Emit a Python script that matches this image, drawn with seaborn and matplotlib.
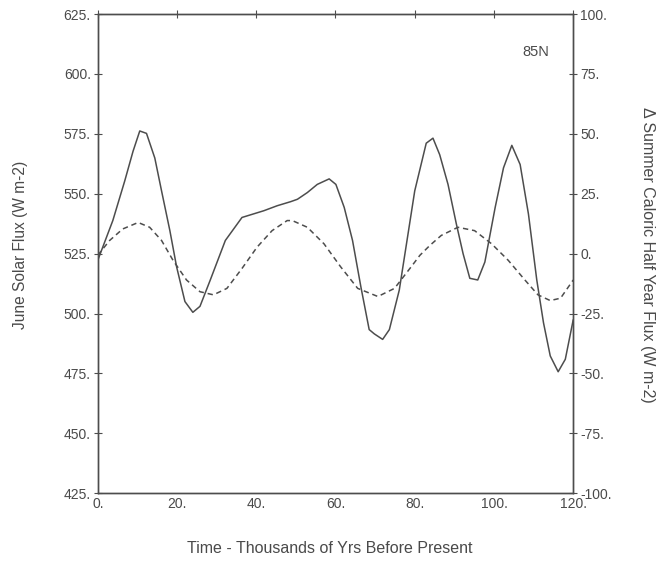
import numpy as np
import pandas as pd
import matplotlib
matplotlib.use("Agg")
import matplotlib.pyplot as plt
from matplotlib.ticker import FuncFormatter, MultipleLocator
import seaborn as sns

# June solar flux at 85N (left axis)
kyr_june = [0, 3.8, 6.8, 8.9, 10.6, 12.3, 14.4, 16.1, 18.2, 19.9, 22.0, 24.0, 25.8, 28.4,
            32.2, 36.4, 41.9, 45.3, 48.7, 50.4, 52.9, 55.4, 58.4, 60.1, 62.2, 64.3, 66.4,
            68.5, 69.8, 71.9, 73.6, 76.1, 80.0, 82.9, 84.6, 86.3, 88.4, 90.5, 92.2, 93.9,
            95.9, 97.7, 100.3, 102.4, 104.5, 106.6, 108.7, 110.8, 112.5, 114.2, 116.2,
            118.0, 120.0]
june_flux = [522.2, 538.8, 555.3, 567.7, 576.2, 575.2, 564.9, 551.2, 534.6, 519.5, 505.0,
             500.5, 503.0, 514.0, 530.5, 540.1, 542.9, 545.0, 546.7, 547.7, 550.5, 553.9,
             556.2, 553.9, 544.3, 530.5, 511.2, 493.3, 491.5, 489.2, 493.3, 509.8, 551.2,
             571.1, 573.2, 566.3, 553.9, 537.4, 525.0, 514.7, 514.0, 521.5, 544.3, 560.8,
             570.2, 562.2, 541.5, 514.0, 496.1, 482.3, 475.7, 480.9, 497.4]

# change in summer caloric half year flux (right axis)
kyr_cal = [0, 3.0, 6.3, 10.2, 13.1, 16.1, 19.0, 22.4, 25.8, 29.2, 32.6, 36.4, 40.2, 44.0,
           47.8, 49.1, 52.9, 57.1, 61.3, 65.6, 70.7, 74.9, 79.1, 81.3, 83.8, 86.7, 90.9,
           95.1, 99.4, 103.6, 107.8, 111.1, 114.2, 116.8, 120.0]
cal_flux = [-0.7, 5.5, 10.3, 13.0, 11.0, 5.5, -2.8, -11.0, -15.9, -17.2, -14.5, -6.2, 2.7,
            9.6, 13.8, 13.8, 11.0, 4.1, -5.5, -14.5, -17.9, -14.5, -5.5, -0.7, 3.4, 7.6,
            11.0, 9.6, 4.1, -2.8, -11.0, -17.2, -19.6, -18.6, -11.0]

june = pd.DataFrame({"kyr": kyr_june, "flux": june_flux})
cal = pd.DataFrame({"kyr": kyr_cal, "flux": cal_flux})

sns.set_style("white")
plt.rcParams["font.family"] = ["Liberation Sans", "DejaVu Sans"]
txt = "#4a4a4a"
line_col = "#4d4d4d"

fig = plt.figure(figsize=(6.65, 5.63), dpi=100)
ax = fig.add_axes([0.147, 0.124, 0.715, 0.851])
ax2 = ax.twinx()

sns.lineplot(data=june, x="kyr", y="flux", ax=ax, color=line_col, lw=1.1)
sns.lineplot(data=cal, x="kyr", y="flux", ax=ax2, color=line_col, lw=1.1,
             linestyle=(0, (3.5, 2.5)))

ax.set_xlim(0, 120)
ax.set_ylim(425, 625)
ax2.set_ylim(-100, 100)
ax.xaxis.set_major_locator(MultipleLocator(20))
ax.yaxis.set_major_locator(MultipleLocator(25))
ax2.yaxis.set_major_locator(MultipleLocator(25))

fmt = FuncFormatter(lambda v, p: f"{v:.0f}.")
ax.xaxis.set_major_formatter(fmt)
ax.yaxis.set_major_formatter(fmt)
ax2.yaxis.set_major_formatter(fmt)

for a in (ax, ax2):
    for s in a.spines.values():
        s.set_color(line_col)
        s.set_linewidth(1.0)
ax.tick_params(axis="both", direction="inout", length=6, width=0.8, color=line_col,
               labelcolor=txt, labelsize=10, top=True, pad=2)
ax.tick_params(axis="x", pad=-0.5)
ax2.tick_params(axis="y", direction="inout", length=6, width=0.8, color=line_col,
                labelcolor=txt, labelsize=10, pad=2)

ax.set_xlabel("Time - Thousands of Yrs Before Present", color=txt, fontsize=11.5, labelpad=22)
ax.xaxis.label.set_x(0.488)
ax.set_ylabel("June Solar Flux (W m-2)", color=txt, fontsize=11.2, labelpad=26)
ax.yaxis.label.set_y(0.518)
ax2.set_ylabel("\u0394 Summer Caloric Half Year Flux (W m-2)", color=txt, fontsize=11.5,
               rotation=270, labelpad=31.5)
ax2.yaxis.label.set_y(0.497)

ax.text(0.922, 0.921, "85N", transform=ax.transAxes, ha="center", va="center",
        color=txt, fontsize=10.5)

fig.savefig("out.png", dpi=100, facecolor="white")
